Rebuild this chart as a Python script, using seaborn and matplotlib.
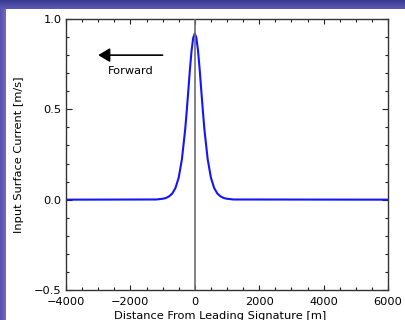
import numpy as np
import pandas as pd
import matplotlib
matplotlib.use('Agg')
import matplotlib.pyplot as plt
import seaborn as sns
from matplotlib.ticker import MultipleLocator

# Values (surface current peak near x = 0)
distance = [-4000, -1200, -1000, -900, -800, -700, -600, -500, -400, -300,
            -250, -200, -150, -100, -50, 0, 50, 100, 150, 200,
            250, 300, 400, 500, 600, 700, 800, 900, 1000, 1200, 6000]
current = [0.0, 0.001, 0.005, 0.009, 0.018, 0.034, 0.065, 0.122, 0.224, 0.386,
           0.492, 0.607, 0.724, 0.825, 0.895, 0.92, 0.895, 0.825, 0.724, 0.607,
           0.492, 0.386, 0.224, 0.122, 0.065, 0.034, 0.018, 0.009, 0.005, 0.001, 0.0]

x_ticks = [-4000, -2000, 0, 2000, 4000, 6000]
y_ticks = [-0.5, 0.0, 0.5, 1.0]
y_tick_labels = ["\u22120.5", "0.0", "0.5", "1.0"]

df = pd.DataFrame({"distance": distance, "current": current})

sns.set_theme(style="white")
plt.rcParams['font.family'] = ['DejaVu Sans']
plt.rcParams['axes.unicode_minus'] = True

fig = plt.figure(figsize=(4.05, 3.2), dpi=100)
fig.patch.set_facecolor('white')

# slide-like gradient border (top band + left strip)
bg = np.ones((320, 405, 3))
top_rows = 9
for r in range(top_rows):
    t = r / (top_rows - 1)
    bg[r, :, :] = np.array([0x3a, 0x3a, 0x92]) / 255 * (1 - t) + np.array([0x5a, 0x5a, 0xb2]) / 255 * t
left_cols = 6
for c in range(left_cols):
    t = c / (left_cols - 1)
    col = np.array([0x58, 0x52, 0xac]) / 255 * (1 - t) + np.array([0x70, 0x68, 0xc4]) / 255 * t
    bg[top_rows:, c, :] = col
bg_ax = fig.add_axes([0, 0, 1, 1], zorder=-10)
bg_ax.imshow(bg, aspect='auto', interpolation='nearest')
bg_ax.axis('off')

ax = fig.add_axes([66 / 405, 30 / 320, 322 / 405, 271 / 320])
ax.set_facecolor('white')

sns.lineplot(data=df, x="distance", y="current", color="#1414ff", linewidth=1.5,
             ax=ax, sort=False)
ax.axvline(0, color="#6e6e6e", linewidth=1.2, zorder=3)

ax.set_xlim(-4000, 6000)
ax.set_ylim(-0.5, 1.0)
ax.set_xticks(x_ticks)
ax.set_xticklabels([f"{v}".replace("-", "\u2212") for v in x_ticks])
ax.set_yticks(y_ticks)
ax.set_yticklabels(y_tick_labels)
ax.xaxis.set_minor_locator(MultipleLocator(500))
ax.yaxis.set_minor_locator(MultipleLocator(0.1))

ax.tick_params(axis='x', which='major', direction='in', length=3.9, width=0.8,
               top=True, bottom=True, labelsize=8.2, pad=5, colors='#222222')
ax.tick_params(axis='x', which='minor', direction='in', length=2.0, width=0.8,
               top=True, bottom=True, colors='#222222')
ax.tick_params(axis='y', which='major', direction='in', length=4.6, width=0.8,
               left=True, right=True, labelsize=8.2, pad=3, colors='#222222')
ax.tick_params(axis='y', which='minor', direction='in', length=2.3, width=0.8,
               left=True, right=True, colors='#222222')
for lbl in ax.get_xticklabels() + ax.get_yticklabels():
    lbl.set_color('black')

for sp in ax.spines.values():
    sp.set_color('#333333')
    sp.set_linewidth(1.0)

ax.set_xlabel("Distance From Leading Signature [m]", fontsize=8.2, color='black')
ax.set_ylabel("Input Surface Current [m/s]", fontsize=8.2, color='black')
ax.xaxis.set_label_coords(0.48, -0.078)
ax.yaxis.set_label_coords(-0.13, 0.5)

ax.annotate("", xy=(-3000, 0.8), xytext=(-1000, 0.8),
            arrowprops=dict(arrowstyle="-|>,head_length=0.5,head_width=0.3",
                            color="black", lw=1.2, mutation_scale=14,
                            shrinkA=0, shrinkB=0))
ax.text(-2000, 0.712, "Forward", ha='center', va='center', fontsize=8.2, color='black')

fig.savefig("out.png", dpi=100, facecolor=fig.get_facecolor())
